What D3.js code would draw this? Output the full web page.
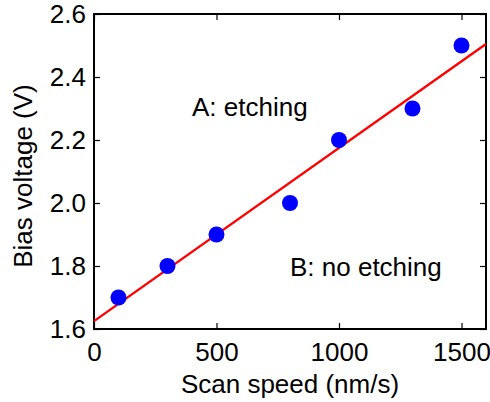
<!DOCTYPE html>
<html><head><meta charset="utf-8">
<script src="https://cdn.jsdelivr.net/npm/d3@7"></script>
<style>
html,body{margin:0;padding:0;background:#fff;}
text{font-family:"Liberation Sans",Arial,Helvetica,sans-serif;fill:#000;}
</style></head>
<body>
<svg id="c" width="490" height="402"></svg>
<script>
const speeds = [100, 300, 500, 800, 1000, 1300, 1500];
const voltages = [1.7, 1.8, 1.9, 2.0, 2.2, 2.3, 2.5];
const fitX = [0, 1600];
const fitY = [1.625, 2.505];
const xTicks = [0, 500, 1000, 1500];
const yTicks = [1.6, 1.8, 2.0, 2.2, 2.4, 2.6];

const svg = d3.select("#c");
const L = 94, R = 486, T = 14, B = 329;
const x = d3.scaleLinear().domain([0, 1600]).range([L, R]);
const y = d3.scaleLinear().domain([1.6, 2.6]).range([B, T]);
const fs = 26;

// frame
svg.append("rect").attr("x", L).attr("y", T).attr("width", R - L).attr("height", B - T)
  .attr("fill", "none").attr("stroke", "#000").attr("stroke-width", 2);

// axes
const tl = 6;
const gx = svg.append("g").attr("transform", `translate(0,${B})`)
  .call(d3.axisBottom(x).tickValues(xTicks).tickFormat(d3.format("d")).tickSizeInner(-tl).tickSizeOuter(0).tickPadding(14));
const gxt = svg.append("g").attr("transform", `translate(0,${T})`)
  .call(d3.axisTop(x).tickValues(xTicks).tickFormat("").tickSizeInner(-tl).tickSizeOuter(0));
const gy = svg.append("g").attr("transform", `translate(${L},0)`)
  .call(d3.axisLeft(y).tickValues(yTicks).tickFormat(d3.format(".1f")).tickSizeInner(-tl).tickSizeOuter(0).tickPadding(8));
const gyr = svg.append("g").attr("transform", `translate(${R},0)`)
  .call(d3.axisRight(y).tickValues(yTicks).tickFormat("").tickSizeInner(-tl).tickSizeOuter(0));
[gx, gxt, gy, gyr].forEach(g => {
  g.select(".domain").remove();
  g.selectAll(".tick line").attr("stroke", "#000").attr("stroke-width", 1.2);
  g.selectAll("text").attr("font-size", fs).attr("font-family", null).style("fill", "#000");
});

// fit line
const line = d3.line().x(d => x(d[0])).y(d => y(d[1]));
svg.append("path").datum(fitX.map((v, i) => [v, fitY[i]])).attr("d", line)
  .attr("fill", "none").attr("stroke", "#ff0000").attr("stroke-width", 2.4);

// points
svg.selectAll("circle.pt").data(speeds).enter().append("circle")
  .attr("class", "pt").attr("cx", d => x(d)).attr("cy", (d, i) => y(voltages[i]))
  .attr("r", 8).attr("fill", "#0000ff");

// annotations
svg.append("text").attr("x", 192).attr("y", 116).attr("font-size", fs).text("A: etching");
svg.append("text").attr("x", 290).attr("y", 276).attr("font-size", fs).text("B: no etching");

// axis labels
svg.append("text").attr("x", 290).attr("y", 393).attr("text-anchor", "middle")
  .attr("font-size", fs).text("Scan speed (nm/s)");
svg.append("text").attr("transform", `translate(32,176) rotate(-90)`)
  .attr("text-anchor", "middle").attr("font-size", fs).text("Bias voltage (V)");
</script>
</body></html>
